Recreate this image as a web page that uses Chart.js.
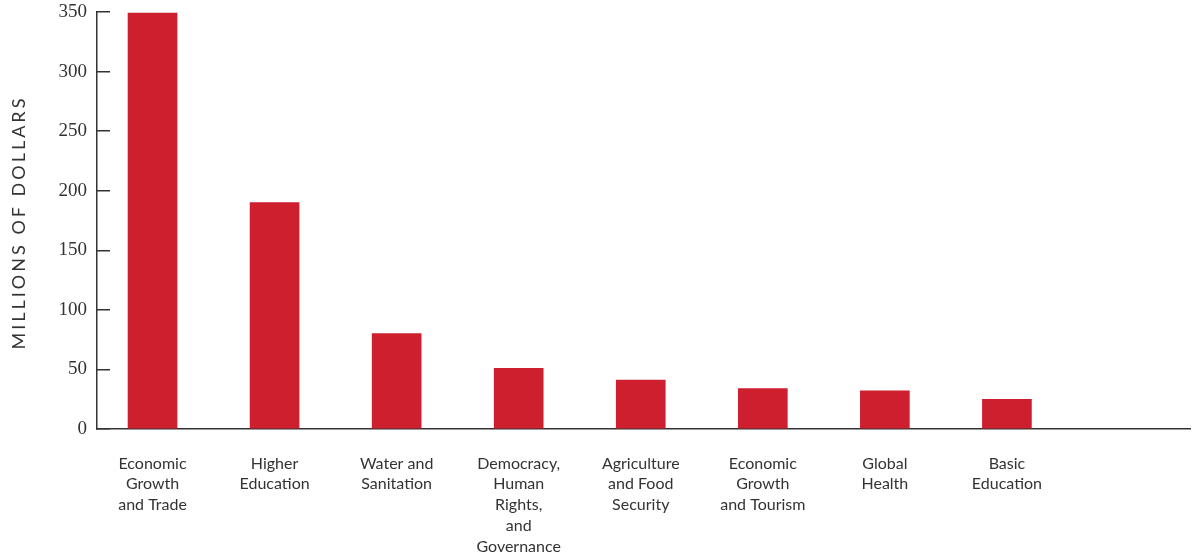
<!DOCTYPE html>
<html>
<head>
<meta charset="utf-8">
<script src="https://cdn.jsdelivr.net/npm/chart.js@4"></script>
<style>
  html, body { margin: 0; padding: 0; background: #fff; }
  #wrap { width: 1192px; height: 556px; }
</style>
</head>
<body>
<div id="wrap"><canvas id="chart"></canvas></div>
<script>
// ===== Data =====
const categories = [
  ["Economic", "Growth", "and Trade"],
  ["Higher", "Education"],
  ["Water and", "Sanitation"],
  ["Democracy,", "Human", "Rights,", "and", "Governance"],
  ["Agriculture", "and Food", "Security"],
  ["Economic", "Growth", "and Tourism"],
  ["Global", "Health"],
  ["Basic", "Education"]
];
const values = [349, 190, 80, 51, 41, 34, 32, 25];
const yTicks = [0, 50, 100, 150, 200, 250, 300, 350];
const yTitle = "MILLIONS OF DOLLARS";

const points = values.map((v, i) => ({ x: i, y: v }));

// Y axis title with letter spacing (canvas letterSpacing)
const yTitlePlugin = {
  id: "yTitle",
  afterDraw(chart) {
    const { ctx, chartArea } = chart;
    ctx.save();
    ctx.font = "18px Lato";
    ctx.fillStyle = "#333";
    ctx.letterSpacing = "3px";
    ctx.textAlign = "center";
    ctx.textBaseline = "middle";
    ctx.translate(19, (chartArea.top + chartArea.bottom) / 2 + 2);
    ctx.rotate(-Math.PI / 2);
    ctx.fillText(yTitle, 0, 0);
    ctx.restore();
  }
};

new Chart(document.getElementById("chart"), {
  type: "bar",
  data: {
    datasets: [{
      data: points,
      backgroundColor: "#cd1f2e",
      barThickness: 49
    }]
  },
  options: {
    responsive: true,
    maintainAspectRatio: false,
    animation: false,
    layout: { padding: { top: 12, right: 2, left: 0, bottom: 0 } },
    plugins: {
      legend: { display: false },
      tooltip: { enabled: false }
    },
    scales: {
      x: {
        type: "linear",
        bounds: "data",
        offset: false,
        min: -0.455,
        max: 8.5,
        grid: { display: false, offset: false },
        border: { display: true, color: "#333", width: 1.5 },
        afterFit(s) {
          s.height = 127;
          s.paddingLeft = 0;
          s.paddingRight = 0;
        },
        afterBuildTicks(s) {
          s.ticks = categories.map((c, i) => ({ value: i }));
        },
        ticks: {
          autoSkip: false,
          maxRotation: 0,
          minRotation: 0,
          padding: 16,
          color: "#333",
          font: { family: "Lato", size: 16, lineHeight: 1.3 },
          callback: (v) => categories[v] || ""
        }
      },
      y: {
        min: 0,
        max: 350,
        afterFit(s) {
          s.width = 97;
          s.paddingTop = 0;
          s.paddingBottom = 0;
        },
        afterBuildTicks(s) {
          s.ticks = yTicks.map(v => ({ value: v }));
        },
        grid: {
          display: true,
          drawOnChartArea: false,
          drawTicks: true,
          tickLength: -13,
          color: "#333",
          lineWidth: 1.5
        },
        border: { display: true, color: "#333", width: 1.5 },
        ticks: {
          padding: 23,
          color: "#333",
          font: { family: "Liberation Serif", size: 19 }
        }
      }
    }
  },
  plugins: [yTitlePlugin]
});
</script>
</body>
</html>
